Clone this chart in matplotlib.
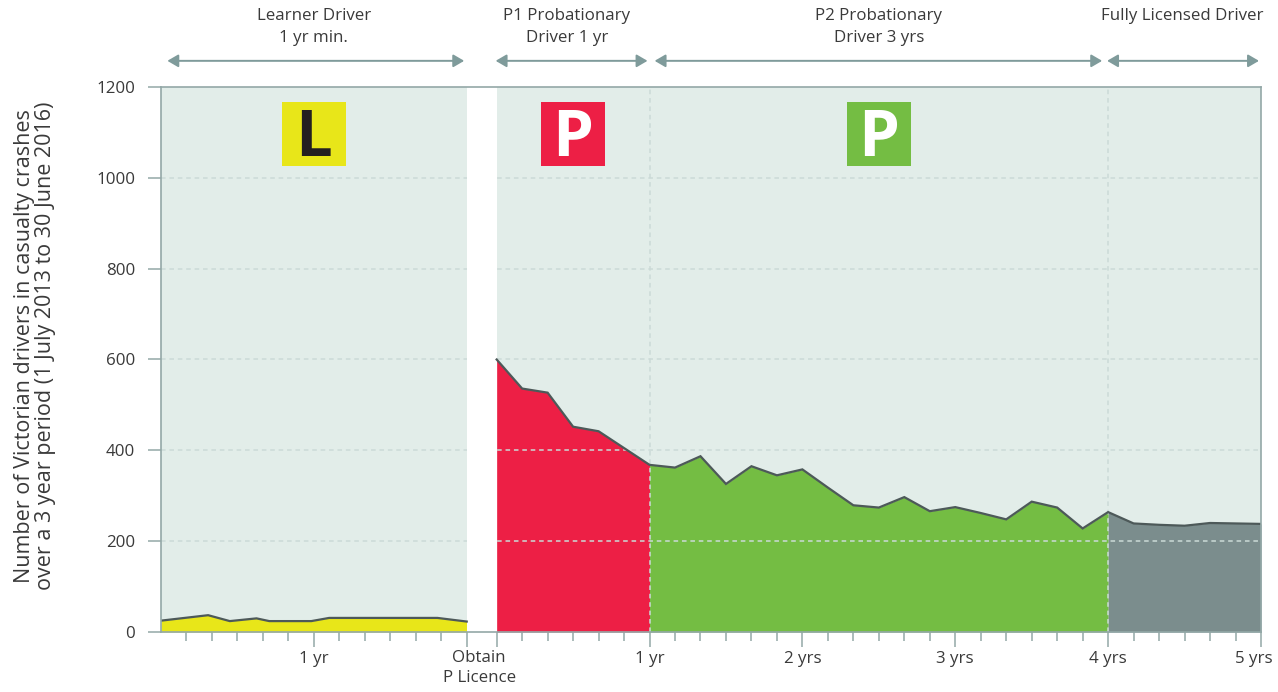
import numpy as np
import matplotlib
matplotlib.use("Agg")
import matplotlib.pyplot as plt
from matplotlib.patches import Rectangle
from matplotlib.transforms import ScaledTranslation

plt.rcParams['font.family'] = ['Open Sans', 'DejaVu Sans']

# --- data (months) ---
# learner period: months since start of learner permit (0..24)
learner_m = [0, 3.7, 5.4, 7.5, 8.5, 11.8, 13.2, 21.7, 24]
learner_v = [25, 37, 24, 30, 24, 24, 31, 31, 23]

# after obtaining P licence, every 2 months
p1_m = [0, 2, 4, 6, 8, 10, 12]
p1_v = [600, 536, 527, 452, 442, 405, 368]
p2_m = [12, 14, 16, 18, 20, 22, 24, 26, 28, 30, 32, 34, 36, 38, 40, 42, 44, 46, 48]
p2_v = [368, 362, 387, 326, 365, 345, 358, 318, 279, 274, 297, 266, 275, 262, 248, 287, 274, 228, 264]
full_m = [48, 50, 52, 54, 56, 58, 60]
full_v = [264, 239, 236, 234, 240, 239, 238]

yticks = [0, 200, 400, 600, 800, 1000, 1200]
post_labels = ['1 yr', '2 yrs', '3 yrs', '4 yrs', '5 yrs']
headers = ["Learner Driver\n1 yr min.", "P1 Probationary\nDriver 1 yr",
           "P2 Probationary\nDriver 3 yrs", "Fully Licensed Driver"]

GAP = 2.35          # white band between learner and P licence (in months)
OFF = 24 + GAP      # x offset of post-licence months

def px(m):
    return OFF + np.asarray(m, dtype=float)

BG = '#e2ede9'
YEL, RED, GRN, GRY = '#e8e619', '#ed1f45', '#74bd43', '#7b8d8d'
EDGE = '#4d5959'
AXC = '#93a8a7'
TXT = '#3a3a3a'
FS = 12.2

fig = plt.figure(figsize=(12.78, 6.92), dpi=100)
ax = fig.add_axes([161 / 1278, 60 / 692, 1100 / 1278, 545 / 692])
ax.set_facecolor(BG)
ax.set_xlim(0, OFF + 60)
ax.set_ylim(0, 1200)

# fills
ax.fill_between(learner_m, learner_v, color=YEL, lw=0, zorder=2)
ax.plot(learner_m, learner_v, color=EDGE, lw=1.6, zorder=4)
ax.fill_between(px(p1_m), p1_v, color=RED, lw=0, zorder=2)
ax.fill_between(px(p2_m), p2_v, color=GRN, lw=0, zorder=2)
ax.fill_between(px(full_m), full_v, color=GRY, lw=0, zorder=2)
all_m = p1_m + p2_m[1:] + full_m[1:]
all_v = p1_v + p2_v[1:] + full_v[1:]
ax.plot(px(all_m), all_v, color=EDGE, lw=1.6, zorder=4, solid_joinstyle='miter')

# grid lines (drawn above fills)
for y in yticks[1:-1]:
    ax.axhline(y, color='#cbdad7', lw=1.1, ls=(0, (3, 2.5)), zorder=3)
for m in [12, 48]:
    ax.axvline(px(m), color='#cbdad7', lw=1.1, ls=(0, (3, 2.5)), zorder=3)

# white gap
ax.axvspan(24, OFF, color='white', lw=0, zorder=3.5)

for s in ax.spines.values():
    s.set_color(AXC)
    s.set_linewidth(1.2)
    s.set_zorder(10)

# y axis
ax.set_yticks(yticks)
ax.tick_params(axis='y', length=9.5, width=1.1, color=AXC, pad=9,
               labelsize=FS, labelcolor=TXT)

# x axis ticks
major = [12, 24, OFF] + list(px([12, 24, 36, 48, 60]))
ax.set_xticks(major)
ax.set_xticklabels(['1 yr', '', ''] + post_labels)
minor = [m for m in range(2, 24, 2) if m != 12] + \
        list(px([m for m in range(2, 60, 2) if m % 12 != 0]))
ax.set_xticks(minor, minor=True)
ax.tick_params(axis='x', which='major', length=11, width=1.1, color=AXC,
               pad=3, labelsize=FS, labelcolor=TXT)
ax.tick_params(axis='x', which='minor', length=6.3, width=1.1, color=AXC)
last = ax.get_xticklabels()[-1]
last.set_transform(last.get_transform() + ScaledTranslation(-5 / 72, 0, fig.dpi_scale_trans))
xt = ax.get_xaxis_transform()
ax.text(24 + GAP / 2 - 0.2, -0.033, "Obtain\nP Licence", transform=xt, ha='center',
        va='top', fontsize=FS, color=TXT, linespacing=1.35)

# badges
ih = 141
for xc, letter, fc, tc in [(12, 'L', YEL, '#231f20'), (px(6), 'P', RED, 'white'),
                           (px(30), 'P', GRN, 'white')]:
    ax.add_patch(Rectangle((xc - 2.51, 1027), 5.02, ih, color=fc, lw=0, zorder=5))
    ax.text(xc, 1049, letter, ha='center', va='baseline', fontsize=47,
            fontweight='bold', color=tc, zorder=6)

# header arrows + labels
ARC = '#7f9b9b'
spans = [(0.5, 23.8), (px(-0.08), px(11.84)), (px(12.4), px(47.53)), (px(47.92), px(59.84))]
for (x0, x1), lab, xc in zip(spans, headers, [12, px(5.5), px(30), px(53.8)]):
    ax.annotate('', xy=(x1, 1.048), xytext=(x0, 1.048), xycoords=xt, textcoords=xt,
                annotation_clip=False,
                arrowprops=dict(arrowstyle='<|-|>,head_length=0.65,head_width=0.38',
                                mutation_scale=10, color=ARC, lw=1.4,
                                shrinkA=0, shrinkB=0))
    yy = 1.130 if '\n' not in lab else 1.110
    ax.text(xc, yy, lab, transform=xt, ha='center', va='center', fontsize=FS,
            color=TXT, linespacing=1.55)

fig.text(35 / 1278, 1 - 346 / 692,
         "Number of Victorian drivers in casualty crashes\n"
         "over a 3 year period (1 July 2013 to 30 June 2016)",
         rotation=90, ha='center', va='center', fontsize=15.5, color=TXT,
         linespacing=1.0)

fig.savefig("out.png", dpi=100)
